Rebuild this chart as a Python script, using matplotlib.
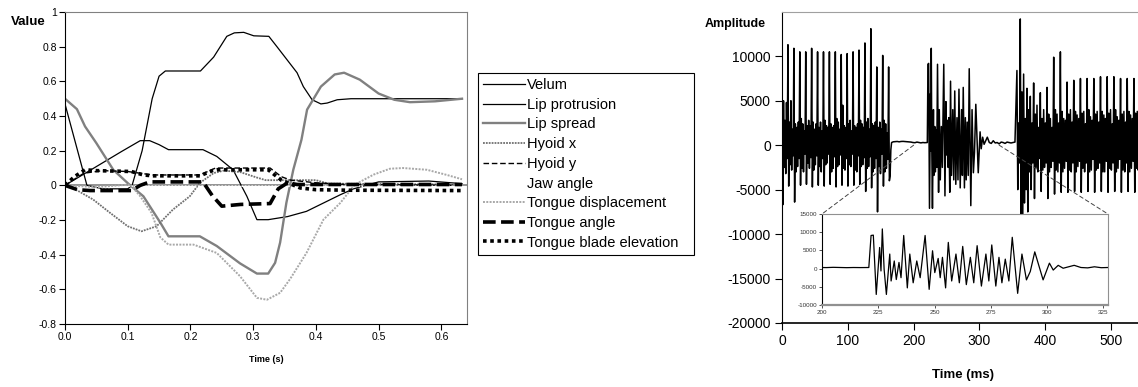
import numpy as np
import matplotlib.pyplot as plt
from matplotlib.patches import ConnectionPatch
from matplotlib.ticker import FuncFormatter

plt.rcParams['font.family'] = ['Liberation Sans', 'DejaVu Sans']
plt.rcParams['axes.unicode_minus'] = False

# ---- left chart: articulatory parameters over time ----
velumT = [0, 0.035, 0.06, 0.1, 0.107, 0.123, 0.139, 0.15, 0.16, 0.216, 0.237, 0.258, 0.27, 0.285,
          0.301, 0.325, 0.338, 0.354, 0.37, 0.38, 0.394, 0.408, 0.418, 0.434, 0.456, 0.633]
velumV = [0.47, 0.0, -0.02, -0.02, 0.0, 0.2, 0.5, 0.63, 0.66, 0.66, 0.74, 0.86, 0.88, 0.883,
          0.863, 0.86, 0.8, 0.725, 0.65, 0.57, 0.494, 0.47, 0.475, 0.494, 0.5, 0.5]

lipProtT = [0, 0.03, 0.06, 0.09, 0.12, 0.135, 0.15, 0.165, 0.22, 0.242, 0.268, 0.29, 0.306, 0.324,
            0.355, 0.385, 0.439, 0.46, 0.48, 0.5, 0.58, 0.633]
lipProtV = [0.0, 0.065, 0.13, 0.195, 0.258, 0.258, 0.235, 0.206, 0.206, 0.167, 0.09, -0.063, -0.198, -0.198,
            -0.18, -0.15, -0.054, -0.02, 0.0, 0.02, 0.025, 0.01]

lipSpreadT = [0, 0.019, 0.032, 0.05, 0.077, 0.1, 0.125, 0.152, 0.165, 0.215, 0.242, 0.279, 0.306, 0.324,
              0.335, 0.343, 0.353, 0.364, 0.377, 0.386, 0.408, 0.43, 0.445, 0.47, 0.5, 0.525, 0.55, 0.59, 0.633]
lipSpreadV = [0.5, 0.44, 0.34, 0.244, 0.09, 0.013, -0.063, -0.215, -0.294, -0.294, -0.35, -0.45, -0.509, -0.509,
              -0.447, -0.33, -0.1, 0.09, 0.263, 0.437, 0.57, 0.64, 0.65, 0.61, 0.53, 0.494, 0.48, 0.485, 0.5]

hyoidXT = [0, 0.02, 0.045, 0.072, 0.1, 0.122, 0.146, 0.172, 0.199, 0.215, 0.237, 0.253, 0.279, 0.306,
           0.32, 0.4, 0.42, 0.633]
hyoidXV = [0.0, -0.03, -0.082, -0.159, -0.236, -0.265, -0.236, -0.14, -0.063, 0.014, 0.071, 0.085, 0.077, 0.045,
           0.03, 0.03, 0.01, 0.005]

hyoidYT = [0, 0.03, 0.06, 0.1, 0.14, 0.215, 0.24, 0.327, 0.345, 0.36, 0.4, 0.45, 0.633]
hyoidYV = [0.0, 0.07, 0.085, 0.08, 0.06, 0.06, 0.1, 0.1, 0.05, 0.03, 0.015, 0.005, 0.0]

jawT = [0, 0.02, 0.07, 0.1, 0.633]
jawV = [0.0, -0.012, -0.012, -0.005, -0.005]

tongueDispT = [0, 0.05, 0.104, 0.12, 0.138, 0.152, 0.165, 0.205, 0.242, 0.279, 0.306, 0.322, 0.343, 0.359,
               0.385, 0.412, 0.439, 0.462, 0.492, 0.518, 0.539, 0.577, 0.609, 0.633]
tongueDispV = [0.0, -0.01, 0.005, -0.063, -0.159, -0.3, -0.342, -0.342, -0.39, -0.524, -0.649, -0.66, -0.62, -0.54,
               -0.39, -0.198, -0.101, 0.004, 0.062, 0.096, 0.1, 0.09, 0.06, 0.035]

tongueAngleT = [0, 0.02, 0.04, 0.106, 0.12, 0.135, 0.22, 0.235, 0.25, 0.28, 0.327, 0.34, 0.355, 0.37, 0.633]
tongueAngleV = [0.0, -0.025, -0.03, -0.03, 0.0, 0.02, 0.02, -0.06, -0.12, -0.11, -0.105, -0.02, 0.015, 0.005, 0.005]

bladeT = [0, 0.015, 0.032, 0.05, 0.106, 0.125, 0.14, 0.215, 0.235, 0.242, 0.324, 0.345, 0.375, 0.4, 0.45, 0.633]
bladeV = [0.0, 0.05, 0.09, 0.085, 0.08, 0.06, 0.055, 0.055, 0.085, 0.09, 0.09, 0.03, -0.015, -0.025, -0.028, -0.03]

# ---- right chart: speech waveform (ms, amplitude) ----
# voiced part 1, samples every 1.125 ms, one row per glottal period
voiced1 = [
    [9800, -6700, 5000, -2500, 2800, -3200, 4800, -1500],
    [11300, -4600, 2600, -2200, 5000, -2800, 1800, -1200],
    [10900, -6400, 2400, -3000, 2000, -2400, 2600, -1500],
    [10500, -4500, 3000, -2600, 2400, -3000, 1600, -1000],
    [10500, -4400, 2200, -2000, 2800, -2600, 2200, -1400],
    [10900, -4700, 2600, -2800, 1800, -2200, 2400, -1200],
    [10500, -4500, 2000, -2400, 2600, -3000, 1600, -1500],
    [10500, -4600, 2800, -2200, 2200, -2000, 2000, -1000],
    [10500, -4400, 2400, -3000, 2000, -2600, 2200, -1300],
    [10500, -4700, 3000, -2400, 2600, -2200, 1800, -1100],
    [10200, -4500, 4500, -2600, 2200, -2800, 2000, -1500],
    [10300, -4600, 2400, -2200, 2800, -2400, 1600, -1000],
    [10500, -4500, 2200, -2800, 2000, -3000, 2400, -1200],
    [10700, -4400, 2800, -2400, 2400, -2200, 2000, -1400],
    [11500, -5200, 2600, -2600, 3000, -2400, 1800, -1300],
    [13100, -4800, 2400, -3000, 2200, -2600, 2600, -1500],
    [8800, -7500, 2000, -2400, 2600, -3200, 1800, -1000],
    [10100, -4600, 2800, -3000, 2400, -2600, 1400, -1600],
    [8800, -4000, -3500, -500, 300],
]
voiced1Start = 0.0
voiced1Step = 1.125

silence1Start = 169.0
silence1Step = 3.0
silence1 = [380, 400, 420, 380, 420, 430, 410, 400, 380, 350, 300, 280, 350, 300, 260, 300, 280, 300]

# release burst / vowel onset
burstT = [220.8, 221.8, 222.8, 224.1, 225.6, 226.2, 226.8, 227.6, 228.6, 230.1, 230.7, 232.1, 233.0, 234.2,
          235.1, 236.3, 237.9, 239.0, 240.5, 242.1, 243.6, 245.8, 247.6, 249.1, 250.1, 251.6, 252.5, 253.5,
          254.9, 256.1, 257.6, 259.5, 261.0, 262.5, 264.1, 265.9, 267.4, 268.9, 270.8, 272.8, 274.1, 275.4,
          277.2, 278.6, 279.9, 281.4, 283.0, 284.5, 286.9, 288.8, 290.8, 292.5, 294.5, 298.2, 301.0, 302.7,
          304.9, 307.1]
burstV = [300, 9100, 9200, -7100, 5800, -650, 10900, -200, -7100, 4000, -3400, 2100, -3000, 1700,
          -2500, 9100, -5300, 4000, -3900, 2100, -2500, 9100, -5700, 4900, -1100, 2800, -2500, 3100,
          -5300, 7200, -3400, 4000, -3900, 6100, -4400, 3100, -3900, 6300, -4800, 4000, -3400, 6500,
          -4800, 3100, -3900, 2600, -3400, 8600, -6800, 4000, -3100, -800, 4600, -3100, 1500, -400,
          900, 100]

silence2Start = 309.0
silence2Step = 3.0
silence2 = [400, 900, 300, 200, 500, 250, 300, 150, 350, 300, 200, 350, 300, 250, 300, 350]

# voiced part 2, samples every 1.27 ms
voiced2Lead = [8400, -5000, 2500, -2000]
voiced2 = [
    [14200, -9600, 6000, -7800, 8000, -6500, 3000, -5000],
    [6400, -7500, 4000, -3000, 5500, -5000, 2500, -2000],
    [7000, -6000, 3500, -2500, 4500, -3000, 2000, -1500],
    [5900, -5200, 3000, -2800, 4000, -2500, 2500, -2000],
    [6500, -6000, 3500, -3000, 3000, -2500, 2000, -1800],
    [9900, -5500, 4000, -2800, 3500, -3000, 2500, -2000],
    [10500, -5300, 3800, -3000, 3000, -2600, 2800, -1800],
    [7100, -5300, 3500, -2800, 4000, -3000, 2600, -2000],
    [7300, -5200, 3800, -3000, 3400, -2400, 3000, -1800],
    [7500, -5300, 3600, -2600, 3800, -3000, 2400, -2000],
    [7500, -5200, 4000, -3000, 3200, -2800, 2800, -1600],
    [7500, -5300, 3500, -2800, 3800, -2600, 2600, -2000],
    [7700, -5200, 3800, -3000, 3400, -3000, 3000, -1800],
    [7700, -5300, 3600, -2600, 4000, -2800, 2400, -2000],
    [7700, -5200, 4000, -3000, 3200, -2600, 2800, -1600],
    [7500, -5300, 3500, -2800, 3800, -3000, 2600, -2000],
    [7500, -5200, 3800, -3000, 3400, -2600, 3000, -1800],
    [7500, -5300, 3600, -2600, 3800, -2800, 2400, -2000],
]
voiced2Start = 357.0
voiced2Step = 1.27


def main():
    fig = plt.figure(figsize=(11.38, 3.87), dpi=100)
    axLeft = fig.add_axes([0.0571, 0.1628, 0.3533, 0.806])
    plotArticulators(fig, axLeft)

    axRight = fig.add_axes([0.6872, 0.1654, 0.3128, 0.804])
    axInset = fig.add_axes([0.7223, 0.2119, 0.2513, 0.2351])
    t, v = buildWaveform()
    plotWaveform(fig, axRight, axInset, t, v)

    fig.savefig("out.png", dpi=100)


def plotArticulators(fig, ax):
    ax.axhline(0, color="#808080", lw=1.2, zorder=1)
    ax.plot(velumT, velumV, color="black", lw=0.9, label="Velum")
    ax.plot(lipProtT, lipProtV, color="black", lw=0.9, label="Lip protrusion")
    ax.plot(lipSpreadT, lipSpreadV, color="#808080", lw=1.7, label="Lip spread")
    ax.plot(hyoidXT, hyoidXV, color="#707070", lw=1.3, ls=(0, (1, 0.6)), label="Hyoid x")
    ax.plot(hyoidYT, hyoidYV, color="black", lw=1.0, ls=(0, (4, 2)), label="Hyoid y")
    ax.plot(jawT, jawV, color="white", lw=1.2, ls=(0, (1, 1)), label="Jaw angle")
    ax.plot(tongueDispT, tongueDispV, color="#a8a8a8", lw=1.4, ls=(0, (1, 0.7)), label="Tongue displacement")
    ax.plot(tongueAngleT, tongueAngleV, color="black", lw=2.6, ls=(0, (3.5, 1.5)), label="Tongue angle")
    ax.plot(bladeT, bladeV, color="black", lw=2.6, ls=(0, (1, 1)), label="Tongue blade elevation")

    ax.set_xlim(0, 0.641)
    ax.set_ylim(-0.8, 1.0)
    ax.set_xticks(np.arange(0, 0.61, 0.1))
    ax.set_yticks(np.arange(-0.8, 1.01, 0.2))
    ax.xaxis.set_major_formatter(FuncFormatter(lambda x, p: "%.1f" % x))
    ax.yaxis.set_major_formatter(FuncFormatter(lambda y, p: format(round(y, 1) + 0.0, "g")))
    ax.tick_params(direction="out", length=4, width=0.8, labelsize=7.5, pad=2)
    ax.spines["left"].set_color("black")
    ax.spines["bottom"].set_color("black")
    ax.spines["top"].set_color("#808080")
    ax.spines["right"].set_color("#808080")

    fig.text(0.0246, 0.943, "Value", fontsize=9.5, fontweight="bold", ha="center", va="center")
    fig.text(0.234, 0.070, "Time (s)", fontsize=6.5, fontweight="bold", ha="center", va="center")

    leg = fig.legend(*ax.get_legend_handles_labels(), loc="upper left",
                     bbox_to_anchor=(0.42, 0.3359, 0.1898, 0.4755), mode="expand",
                     bbox_transform=fig.transFigure, fontsize=10.5, handlelength=2.9, handletextpad=0.1,
                     labelspacing=0.39, borderpad=0.35, borderaxespad=0, fancybox=False, framealpha=1)
    leg.get_frame().set_edgecolor("black")
    leg.get_frame().set_linewidth(0.8)


def buildWaveform():
    parts_t = []
    parts_v = []
    v1 = np.concatenate([np.array(r, dtype=float) for r in voiced1])
    parts_t.append(voiced1Start + np.arange(len(v1)) * voiced1Step)
    parts_v.append(v1)
    parts_t.append(silence1Start + np.arange(len(silence1)) * silence1Step)
    parts_v.append(np.array(silence1, dtype=float))
    parts_t.append(np.array(burstT))
    parts_v.append(np.array(burstV, dtype=float))
    parts_t.append(silence2Start + np.arange(len(silence2)) * silence2Step)
    parts_v.append(np.array(silence2, dtype=float))
    v2 = np.concatenate([np.array(voiced2Lead, dtype=float)] + [np.array(r, dtype=float) for r in voiced2])
    parts_t.append(voiced2Start + np.arange(len(v2)) * voiced2Step)
    parts_v.append(v2)
    return np.concatenate(parts_t), np.concatenate(parts_v)


def plotWaveform(fig, ax, inset, t, v):
    ax.plot(t, v, color="black", lw=1.1)
    ax.set_xlim(0, 541)
    ax.set_ylim(-20000, 15000)
    ax.set_xticks(np.arange(0, 501, 100))
    ax.set_yticks(np.arange(-20000, 10001, 5000))
    ax.tick_params(direction="out", length=5, width=0.8, labelsize=10, pad=3)
    ax.spines["right"].set_visible(False)
    ax.spines["top"].set_color("#a0a0a0")
    ax.spines["bottom"].set_linewidth(1.2)

    inset.plot(t, v, color="black", lw=0.9)
    inset.set_xlim(200, 327)
    inset.set_ylim(-10000, 15000)
    inset.set_xticks(np.arange(200, 326, 25))
    inset.set_yticks(np.arange(-10000, 15001, 5000))
    inset.tick_params(direction="out", length=2, width=0.6, labelsize=4.5, pad=1.5, colors="#333333")
    for side in ["top", "right"]:
        inset.spines[side].set_color("#909090")
    inset.spines["bottom"].set_color("#909090")
    inset.spines["bottom"].set_linewidth(1.6)

    for xMain, xInset in [(200, 0), (330, 1)]:
        con = ConnectionPatch(xyA=(xMain, 0), coordsA=ax.transData,
                              xyB=(xInset, 1), coordsB=inset.transAxes,
                              color="#444444", lw=0.7, ls=(0, (4, 3)))
        fig.add_artist(con)

    fig.text(0.646, 0.938, "Amplitude", fontsize=9, fontweight="bold", ha="center", va="center")
    fig.text(0.846, 0.031, "Time (ms)", fontsize=9.5, fontweight="bold", ha="center", va="center")


if __name__ == "__main__":
    main()
